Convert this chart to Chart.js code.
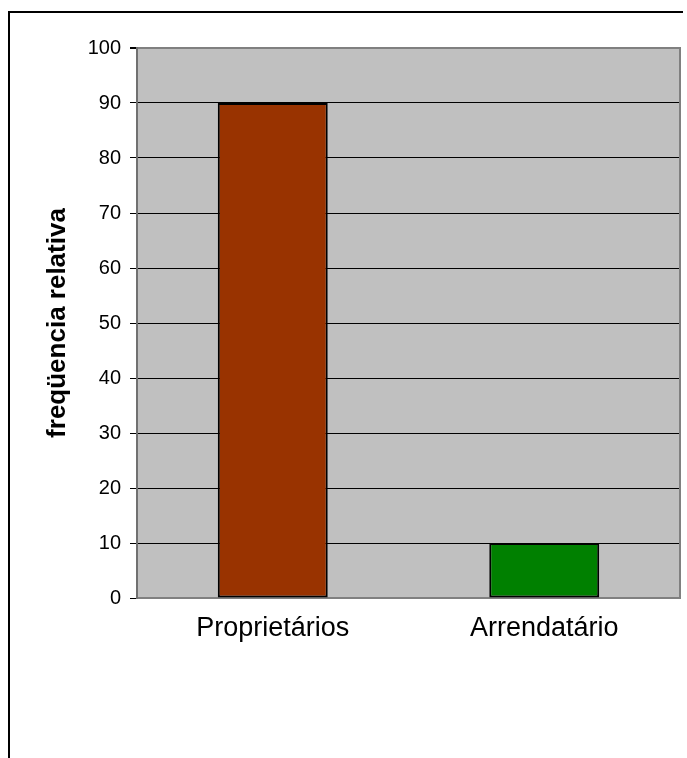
<!DOCTYPE html>
<html>
<head>
<meta charset="utf-8">
<script src="https://cdn.jsdelivr.net/npm/chart.js@4.4.1/dist/chart.umd.min.js"></script>
<style>
  html, body { margin: 0; padding: 0; background: #fff; }
  #wrap { position: relative; width: 687px; height: 758px; overflow: hidden; }
  #frame { position: absolute; left: 8px; top: 11px; width: 675px; height: 800px;
           border-top: 2px solid #000; border-left: 2px solid #000; box-sizing: border-box; }
  canvas { position: absolute; left: 0; top: 0; }
</style>
</head>
<body>
<div id="wrap">
  <div id="frame"></div>
  <canvas id="c" width="687" height="758"></canvas>
</div>
<script>
// Tenure categories and their relative frequency (%)
const categories = ['Proprietários', 'Arrendatário'];
const frequencies = [90, 10];
const barColors = ['#993300', '#008000'];
const yTicks = [0, 10, 20, 30, 40, 50, 60, 70, 80, 90, 100];

const FONT = '"Liberation Sans", Arial, Helvetica, sans-serif';

// Gray plot background plus the right-hand frame edge
const plotFrame = {
  id: 'plotFrame',
  beforeDraw(chart) {
    const { ctx, chartArea: a } = chart;
    ctx.save();
    ctx.fillStyle = '#C0C0C0';
    ctx.fillRect(a.left, a.top, a.right - a.left, a.bottom - a.top);
    ctx.restore();
  },
  afterDraw(chart) {
    const { ctx, chartArea: a } = chart;
    ctx.save();
    ctx.strokeStyle = '#808080';
    ctx.lineWidth = 2;
    ctx.beginPath();
    ctx.moveTo(a.right, a.top - 1);
    ctx.lineTo(a.right, a.bottom);
    ctx.stroke();
    ctx.restore();
  }
};

new Chart(document.getElementById('c'), {
  type: 'bar',
  data: {
    labels: categories,
    datasets: [{
      data: frequencies,
      backgroundColor: barColors,
      borderColor: '#000',
      borderWidth: 2,
      borderSkipped: false,
      barPercentage: 0.405,
      categoryPercentage: 1
    }]
  },
  options: {
    responsive: false,
    animation: false,
    devicePixelRatio: 1,
    layout: { padding: { left: 38, top: 48, right: 7, bottom: 0 } },
    plugins: { legend: { display: false }, tooltip: { enabled: false } },
    scales: {
      x: {
        grid: { display: false, drawTicks: false },
        border: { display: true, color: '#808080', width: 2 },
        ticks: { color: '#000', padding: 14, font: { family: FONT, size: 27 } },
        afterFit(scale) { scale.height = 160; }
      },
      y: {
        min: 0,
        max: 100,
        afterBuildTicks(scale) { scale.ticks = yTicks.map(v => ({ value: v })); },
        grid: {
          color: c => (c.tick && c.tick.value === 100) ? '#808080' : '#000',
          lineWidth: c => (c.tick && c.tick.value === 100) ? 2 : 1,
          tickColor: '#000',
          tickLength: 7
        },
        border: { display: true, color: '#707070', width: 2 },
        ticks: { color: '#000', padding: 9, font: { family: FONT, size: 20 } },
        title: {
          display: true,
          text: 'freqüencia relativa',
          color: '#000',
          font: { family: FONT, size: 26, weight: 'bold' }
        },
        afterFit(scale) { scale.width = 99; }
      }
    }
  },
  plugins: [plotFrame]
});
</script>
</body>
</html>
